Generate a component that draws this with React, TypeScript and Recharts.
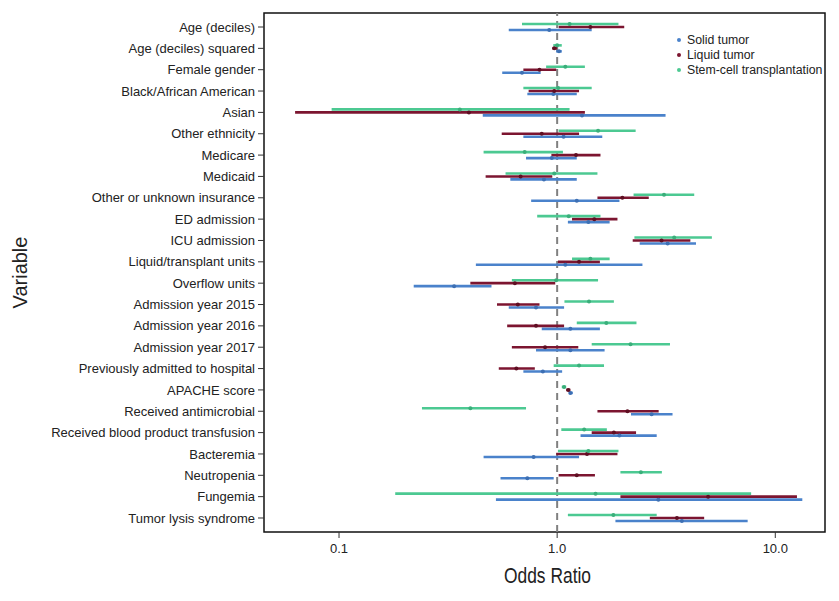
import React from 'react';
import {
  ScatterChart,
  Scatter,
  XAxis,
  YAxis,
  ErrorBar,
  ReferenceLine,
  ReferenceArea,
} from 'recharts';

const variables = [
  'Age (deciles)',
  'Age (deciles) squared',
  'Female gender',
  'Black/African American',
  'Asian',
  'Other ethnicity',
  'Medicare',
  'Medicaid',
  'Other or unknown insurance',
  'ED admission',
  'ICU admission',
  'Liquid/transplant units',
  'Overflow units',
  'Admission year 2015',
  'Admission year 2016',
  'Admission year 2017',
  'Previously admitted to hospital',
  'APACHE score',
  'Received antimicrobial',
  'Received blood product transfusion',
  'Bacteremia',
  'Neutropenia',
  'Fungemia',
  'Tumor lysis syndrome',
];

// [odds ratio, lower CI, upper CI] per variable
const solidTumor = [
  [0.92, 0.6, 1.44],
  [1.02, 0.99, 1.05],
  [0.69, 0.56, 0.84],
  [0.96, 0.73, 1.23],
  [1.3, 0.456, 3.14],
  [1.07, 0.7, 1.61],
  [0.945, 0.72, 1.23],
  [0.87, 0.61, 1.23],
  [1.23, 0.76, 1.93],
  [1.39, 1.12, 1.74],
  [3.21, 2.39, 4.33],
  [1.09, 0.424, 2.46],
  [0.337, 0.22, 0.5],
  [0.8, 0.6, 1.076],
  [1.15, 0.85, 1.57],
  [1.15, 0.8, 1.65],
  [0.86, 0.7, 1.054],
  [1.15, 1.13, 1.18],
  [2.71, 2.18, 3.38],
  [1.93, 1.28, 2.86],
  [0.78, 0.46, 1.26],
  [0.73, 0.55, 0.964],
  [2.91, 0.524, 13.3],
  [3.73, 1.85, 7.47],
];

const liquidTumor = [
  [1.42, 1.016, 2.03],
  [0.97, 0.95, 1.0],
  [0.83, 0.7, 0.99],
  [0.97, 0.74, 1.26],
  [0.394, 0.0629, 1.34],
  [0.85, 0.557, 1.26],
  [1.22, 0.941, 1.58],
  [0.68, 0.47, 0.95],
  [1.99, 1.53, 2.63],
  [1.48, 1.17, 1.89],
  [3.01, 2.22, 4.08],
  [1.26, 1.008, 1.57],
  [0.64, 0.4, 0.98],
  [0.66, 0.53, 0.83],
  [0.8, 0.59, 1.076],
  [0.88, 0.62, 1.25],
  [0.65, 0.54, 0.79],
  [1.125, 1.1, 1.15],
  [2.1, 1.53, 2.92],
  [1.82, 1.44, 2.3],
  [1.37, 0.99, 1.89],
  [1.23, 1.016, 1.49],
  [4.92, 1.95, 12.57],
  [3.54, 2.66, 4.72],
];

const stemCell = [
  [1.14, 0.69, 1.91],
  [1.0, 0.96, 1.05],
  [1.09, 0.89, 1.34],
  [1.01, 0.7, 1.44],
  [0.358, 0.0925, 1.14],
  [1.54, 1.016, 2.29],
  [0.71, 0.46, 1.063],
  [0.97, 0.58, 1.53],
  [3.09, 2.24, 4.25],
  [1.13, 0.81, 1.58],
  [3.44, 2.26, 5.12],
  [1.42, 1.17, 1.74],
  [0.99, 0.62, 1.54],
  [1.4, 1.08, 1.82],
  [1.68, 1.23, 2.31],
  [2.17, 1.44, 3.29],
  [1.26, 0.964, 1.64],
  [1.076, 1.05, 1.1],
  [0.4, 0.24, 0.72],
  [1.33, 1.045, 1.69],
  [1.39, 1.008, 1.91],
  [2.42, 1.95, 3.02],
  [1.5, 0.181, 7.75],
  [1.81, 1.12, 2.86],
];

const xTicks = [0.1, 1, 10];
const xTickLabels = ['0.1', '1.0', '10.0'];

const series = [
  { name: 'Solid tumor', values: solidTumor, color: '#4a82cb', dot: '#3d6fb3', offset: 0.14 },
  { name: 'Liquid tumor', values: liquidTumor, color: '#7c1530', dot: '#5e0e22', offset: 0 },
  { name: 'Stem-cell transplantation', values: stemCell, color: '#4cc992', dot: '#3aae7a', offset: -0.14 },
];

const toRows = (values: number[][], offset: number) =>
  values.map(([or, lo, hi], i) => ({ or, y: i + offset, err: [or - lo, hi - or] }));

const FONT = '"Liberation Sans", Arial, sans-serif';
const X_DOMAIN = [0.0453, 16.9];
const Y_DOMAIN = [-0.656, 23.656];

const Dot = (color: string) => (props: any) => {
  const { cx, cy } = props;
  if (cx == null || cy == null) return null;
  return <circle cx={cx} cy={cy} r={2} fill={color} />;
};

const YLabel = (props: any) => {
  const { viewBox } = props;
  const cy = viewBox.y + viewBox.height / 2;
  return (
    <text
      x={12}
      y={cy}
      transform={`rotate(-90, 12, ${cy})`}
      textAnchor="middle"
      dominantBaseline="central"
      fill="#222"
      fontSize={20}
      fontFamily={FONT}
    >
      Variable
    </text>
  );
};

// condensed look of the original x title
const XLabel = (props: any) => {
  const { viewBox } = props;
  const cx = viewBox.x + viewBox.width / 2 + 3;
  return (
    <text
      x={cx}
      y={575}
      textAnchor="middle"
      fill="#222"
      fontSize={22}
      fontFamily={FONT}
      textLength={87}
      lengthAdjust="spacingAndGlyphs"
    >
      Odds Ratio
    </text>
  );
};

const LegendBox = () => (
  <div
    style={{
      position: 'absolute',
      top: 24.5,
      left: 669,
      fontFamily: FONT,
      fontSize: 12.3,
      color: '#222',
      lineHeight: '15px',
    }}
  >
    {series.map((s) => (
      <div key={s.name} style={{ display: 'flex', alignItems: 'center', whiteSpace: 'nowrap' }}>
        <span
          style={{
            width: 4,
            height: 4,
            flexShrink: 0,
            borderRadius: 2,
            background: s.color,
            display: 'inline-block',
            marginRight: 6,
          }}
        />
        {s.name}
      </div>
    ))}
  </div>
);

export default function App() {
  return (
    <div style={{ position: 'relative', width: 823, height: 593 }}>
      <ScatterChart
        width={823}
        height={593}
        margin={{ top: 5, right: 6, bottom: 0, left: 0 }}
        style={{ fontFamily: FONT }}
      >
        <XAxis
          type="number"
          dataKey="or"
          scale="log"
          domain={X_DOMAIN}
          allowDataOverflow
          ticks={xTicks}
          tickFormatter={(v: number) => xTickLabels[xTicks.indexOf(v)] ?? String(v)}
          tick={{ fill: '#222', fontSize: 13 }}
          tickSize={6}
          tickMargin={6}
          stroke="#333"
          axisLine={false}
          height={69}
          label={<XLabel />}
        />
        <YAxis
          type="number"
          dataKey="y"
          reversed
          domain={Y_DOMAIN}
          allowDataOverflow
          ticks={variables.map((_, i) => i)}
          interval={0}
          tickFormatter={(v: number) => variables[v] ?? ''}
          tick={{ fill: '#222', fontSize: 13 }}
          tickSize={6}
          tickMargin={3}
          stroke="#333"
          axisLine={false}
          width={256}
          label={<YLabel />}
        />
        <ReferenceArea
          x1={X_DOMAIN[0]}
          x2={X_DOMAIN[1]}
          y1={Y_DOMAIN[0]}
          y2={Y_DOMAIN[1]}
          fill="none"
          stroke="#111"
          strokeWidth={1.5}
          ifOverflow="visible"
        />
        <ReferenceLine x={1} stroke="#808080" strokeWidth={2} strokeDasharray="7 5" />
        {series.map((s) => (
          <Scatter
            key={s.name}
            name={s.name}
            data={toRows(s.values, s.offset)}
            fill={s.color}
            shape={Dot(s.dot)}
            isAnimationActive={false}
          >
            <ErrorBar
              dataKey="err"
              direction="x"
              width={0}
              stroke={s.color}
              strokeWidth={2.6}
              isAnimationActive={false}
            />
          </Scatter>
        ))}
      </ScatterChart>
      <LegendBox />
    </div>
  );
}
